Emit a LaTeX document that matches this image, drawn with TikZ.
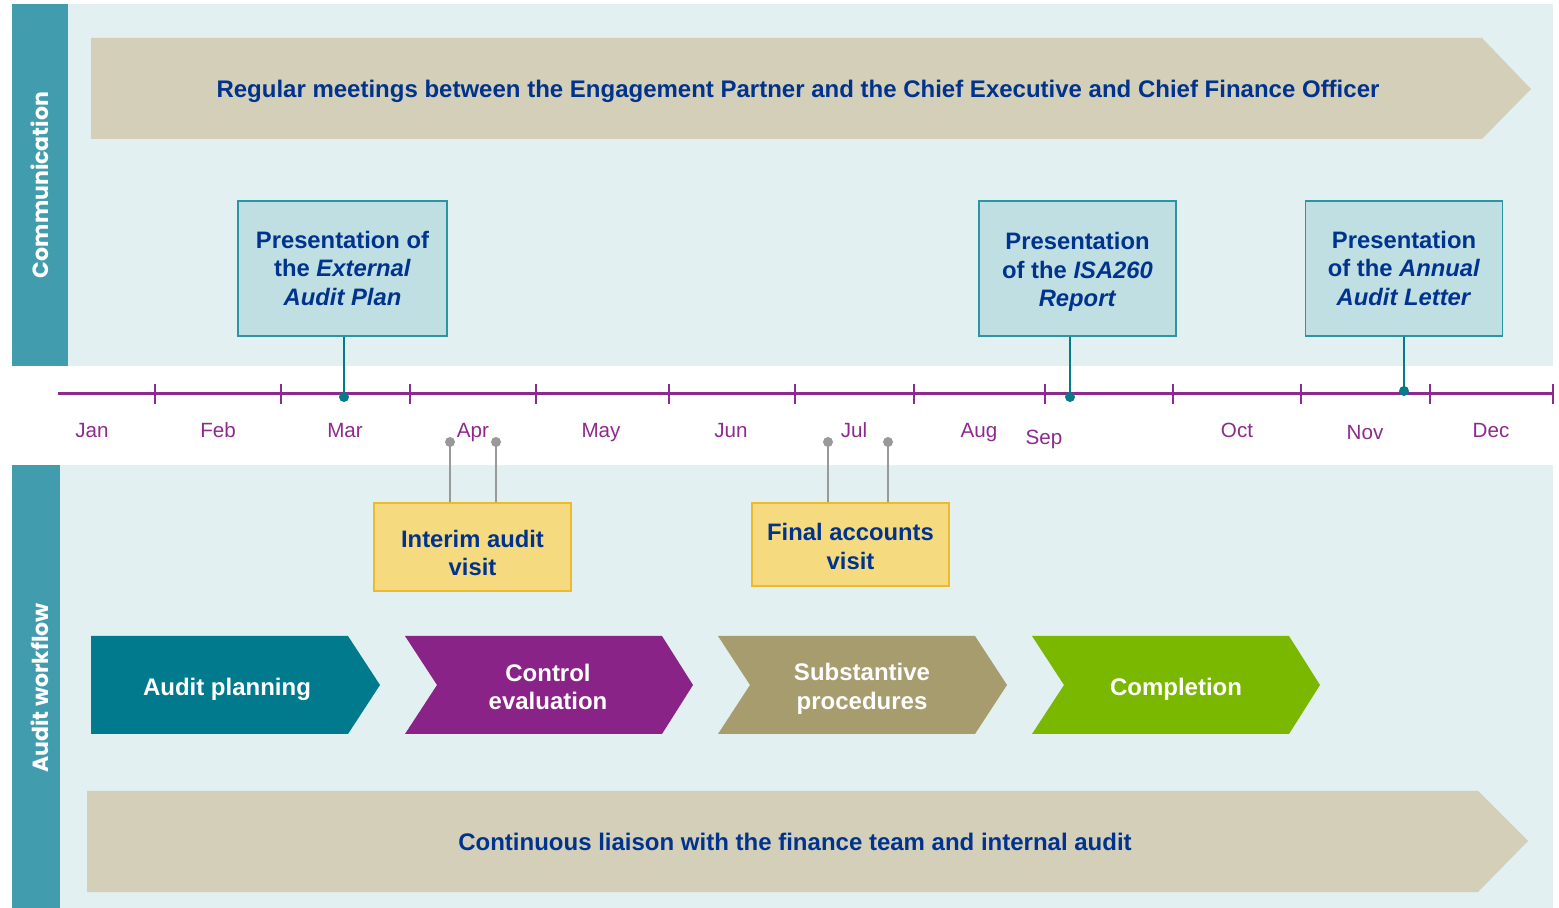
\documentclass[tikz,border=0pt]{standalone}
\usepackage{fontspec}
\setmainfont{Liberation Sans}
\newfontfamily\sidefont{Poppins}
\usetikzlibrary{positioning}
\definecolor{sidebar}{HTML}{419DAE}
\definecolor{panelbg}{HTML}{E2F0F1}
\definecolor{tan}{HTML}{D4CFB8}
\definecolor{navy}{HTML}{00338D}
\definecolor{boxblue}{HTML}{C0DFE2}
\definecolor{boxline}{HTML}{2B95A3}
\definecolor{boxyellow}{HTML}{F5DA80}
\definecolor{yellowline}{HTML}{EDBB2A}
\definecolor{chevteal}{HTML}{007A8C}
\definecolor{chevpurple}{HTML}{8A2387}
\definecolor{chevkhaki}{HTML}{A69C6E}
\definecolor{chevgreen}{HTML}{7AB800}
\definecolor{tline}{HTML}{8E2A8D}
\definecolor{linkteal}{HTML}{057A8B}
\definecolor{linkgray}{HTML}{999999}
\begin{document}
\begin{tikzpicture}[x=0.5pt,y=-0.5pt]
        \tikzstyle{side}=[text=white,rotate=90,font=\sidefont\bfseries\fontsize{11}{13}\selectfont]
        \tikzstyle{banner}=[text=navy,font=\bfseries\fontsize{12}{14}\selectfont]
        \tikzstyle{present}=[rectangle,draw=boxline,line width=0.6pt,fill=boxblue,text=navy,inner sep=0pt,
                             minimum height=67.5pt,align=center,font=\bfseries\fontsize{11.9}{14.3}\selectfont]
        \tikzstyle{visit}=[rectangle,draw=yellowline,line width=0.6pt,fill=boxyellow,text=navy,inner sep=0pt,
                           minimum width=98.5pt,align=center,font=\bfseries\fontsize{11.9}{14.3}\selectfont]
        \tikzstyle{stage}=[text=white,align=center,font=\bfseries\fontsize{12}{14.3}\selectfont]
        \tikzstyle{month}=[text=tline,anchor=base,inner sep=0pt,font=\fontsize{10.3}{12}\selectfont]
        \tikzstyle{link}=[draw=linkteal,line width=1.2pt]
        \tikzstyle{glink}=[draw=linkgray,line width=1.2pt]
        \useasboundingbox[fill=white] (0,0) rectangle (1559,908);
        % panels
        \fill[panelbg] (68,4) rectangle (1553,366);
        \fill[sidebar] (12,4) rectangle (68,366);
        \fill[panelbg] (60,465) rectangle (1553,908);
        \fill[sidebar] (12,465) rectangle (60,908);
        \node [side] (comm) at (40,185) {Communication};
        \node [side] (flow) at (40,688) {Audit workflow};
        % big arrows
        \fill[tan] (91,38) -- (1482,38) -- (1531,89) -- (1482,139) -- (91,139) -- cycle;
        \node [banner] (meet) at (798,91) {Regular meetings between the Engagement Partner and the Chief Executive and Chief Finance Officer};
        \fill[tan] (87,791) -- (1478,791) -- (1528,841) -- (1478,892) -- (87,892) -- cycle;
        \node [banner] (liaison) at (795,842) {Continuous liaison with the finance team and internal audit};
        % timeline
        \draw[tline,line width=1.5pt] (58,394) -- (1553,394);
        \foreach \t in {155,281,410,536,669,795,914,1045,1173,1301,1430,1553}
          \draw[tline,line width=1.2pt] (\t,384) -- (\t,404);
        \foreach \m/\x/\y in {Jan/92/438,Feb/218/438,Mar/345/438,Apr/473/438,May/601/438,Jun/731/438,
                              Jul/854/438,Aug/979/438,Sep/1044/445,Oct/1237/438,Nov/1365/440,Dec/1491/438}
          \node [month] (m\m) at (\x,\y) {\m};
        % communication boxes
        \node [present,minimum width=104.5pt] (plan) at (342.5,268.5) {Presentation of\\the \textit{External}\\\textit{Audit Plan}};
        \node [present,minimum width=98.5pt,text depth=0pt] (isa) at (1077.5,268.5) {};
        \node [present,draw=none,fill=none,minimum height=0pt] (isatext) at (1077.5,272) {Presentation\\of the \textit{ISA260}\\\textit{Report}};
        \node [present,minimum width=98.5pt] (letter) at (1404,268.5) {Presentation\\of the \textit{Annual}\\\textit{Audit Letter}};
        \coordinate (pd) at (344,397);
        \coordinate (id) at (1070,397);
        \coordinate (ld) at (1404,391);
        \foreach \d/\b in {pd/plan,id/isa,ld/letter} {
          \path[link] (\d |- \b.south) -- (\d);
          \fill[linkteal] (\d) circle (2.5pt);
        }
        % visits
        \node [visit,minimum height=44pt] (interim) at (472.5,547) {};
        \node (interimtext) [visit,draw=none,fill=none,minimum height=0pt] at (472.5,553) {Interim audit\\visit};
        \node [visit,minimum height=41.5pt] (final) at (850.5,544.5) {};
        \node (finaltext) [visit,draw=none,fill=none,minimum height=0pt] at (850.5,546.5) {Final accounts\\visit};
        \coordinate (i1) at (450,442);
        \coordinate (i2) at (496,442);
        \coordinate (f1) at (828,442);
        \coordinate (f2) at (888,442);
        \foreach \d/\b in {i1/interim,i2/interim,f1/final,f2/final} {
          \path[glink] (\d) -- (\d |- \b.north);
          \fill[linkgray] (\d) circle (2.5pt);
        }
        % workflow stages
        \fill[chevteal] (91,636) -- (348,636) -- (380,685) -- (348,734) -- (91,734) -- cycle;
        \fill[chevpurple] (405,636) -- (662,636) -- (693,685) -- (662,734) -- (405,734) -- (437,685) -- cycle;
        \fill[chevkhaki] (718,636) -- (975,636) -- (1007,685) -- (975,734) -- (718,734) -- (750,685) -- cycle;
        \fill[chevgreen] (1032,636) -- (1289,636) -- (1320,685) -- (1289,734) -- (1032,734) -- (1064,685) -- cycle;
        \node [stage] (planning) at (227,689) {Audit planning};
        \node [stage] (control) at (548,687) {Control\\evaluation};
        \node [stage] (subst) at (862,689) {Substantive\\procedures};
        \node [stage] (compl) at (1176,689) {Completion};
\end{tikzpicture}
\end{document}
